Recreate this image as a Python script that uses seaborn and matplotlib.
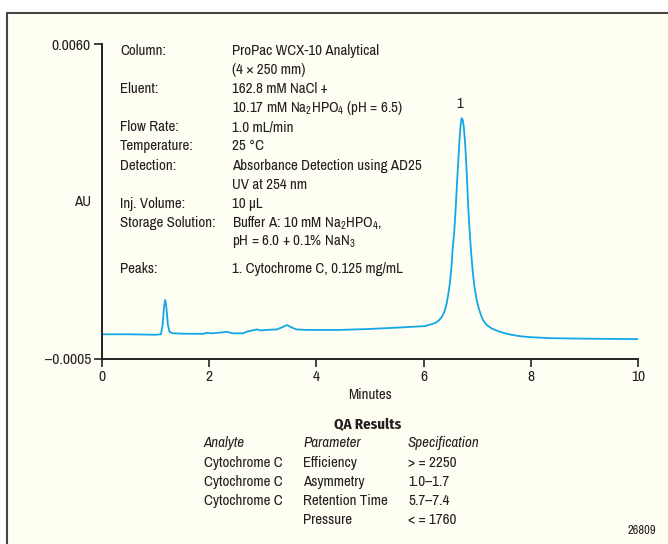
import matplotlib
matplotlib.use("Agg")
import matplotlib.pyplot as plt
import seaborn as sns
import pandas as pd
from matplotlib.patches import Rectangle
from matplotlib.lines import Line2D

# ---- data ----
time_min = [0.0, 0.5, 1.0, 1.10, 1.13, 1.16, 1.18, 1.20, 1.23, 1.26, 1.32, 1.60,
            1.89, 1.95, 2.07, 2.33, 2.44, 2.63, 2.72, 2.89, 2.95, 3.07, 3.26, 3.35,
            3.45, 3.54, 3.63, 3.82, 4.44, 5.0, 5.56, 6.03, 6.12, 6.21, 6.28, 6.34,
            6.39, 6.43, 6.46, 6.49, 6.52, 6.54, 6.57, 6.59, 6.61, 6.63, 6.65, 6.67,
            6.69, 6.71, 6.73, 6.75, 6.77, 6.79, 6.81, 6.83, 6.85, 6.87, 6.89, 6.92,
            6.95, 6.99, 7.03, 7.07, 7.11, 7.18, 7.27, 7.40, 7.52, 7.64, 7.80, 8.0,
            8.36, 9.0, 10.0]
au = [0.00001, 0.00001, 0.00000, 0.00001, 0.00020, 0.00060, 0.00072, 0.00058,
      0.00020, 0.00006, 0.00003, 0.00002, 0.00002, 0.00004, 0.00003, 0.00006,
      0.00003, 0.00003, 0.00007, 0.00011, 0.00009, 0.00010, 0.00011, 0.00015,
      0.00020, 0.00015, 0.00011, 0.00010, 0.00010, 0.00012, 0.00015, 0.00018,
      0.00021, 0.00024, 0.00029, 0.00037, 0.00048, 0.00065, 0.00083, 0.00106,
      0.00140, 0.00175, 0.00210, 0.00244, 0.00285, 0.00326, 0.00365, 0.00402,
      0.00432, 0.00447, 0.00443, 0.00429, 0.00402, 0.00367, 0.00320, 0.00270,
      0.00230, 0.00196, 0.00165, 0.00127, 0.00098, 0.00072, 0.00054, 0.00041,
      0.00030, 0.00020, 0.00013, 0.00007, 0.00003, 0.00000, -0.00003, -0.00005,
      -0.00007, -0.00008, -0.00009]

x_ticks = [0, 2, 4, 6, 8, 10]
y_ticks = [-0.0005, 0.0060]
y_tick_labels = ["\u20130.0005", "0.0060"]

cond_labels = ["Column:", "", "Eluent:", "", "Flow Rate:", "Temperature:", "Detection:",
               "", "Inj. Volume:", "Storage Solution:", "", "Peaks:"]
cond_values = ["ProPac WCX-10 Analytical", "(4 \u00d7 250 mm)", "162.8 mM NaCl +",
               "10.17 mM Na$_2$HPO$_4$ (pH = 6.5)", "1.0 mL/min", "25 \u00b0C",
               "Absorbance Detection using AD25", "UV at 254 nm", "10 \u00b5L",
               "Buffer A: 10 mM Na$_2$HPO$_4$,", "pH = 6.0 + 0.1% NaN$_3$",
               "1. Cytochrome C, 0.125 mg/mL"]

qa_header = ["Analyte", "Parameter", "Specification"]
qa_analyte = ["Cytochrome C", "Cytochrome C", "Cytochrome C", ""]
qa_parameter = ["Efficiency", "Asymmetry", "Retention Time", "Pressure"]
qa_spec = ["> = 2250", "1.0\u20131.7", "5.7\u20137.4", "< = 1760"]

peak_label = "1"
peak_time = 6.71
peak_au = 0.00447

# ---- style ----
sns.set_style("ticks")
FONT = ["Archivo Narrow", "DejaVu Sans Condensed", "DejaVu Sans"]
plt.rcParams["font.family"] = FONT
plt.rcParams["mathtext.default"] = "regular"

TXT = "#231f20"
FS = 10.8

W, H = 668, 544
fig = plt.figure(figsize=(W / 100, H / 100), dpi=100, facecolor="white")

def fx(px):
    return px / W

def fy(py):
    return 1 - py / H

bg = "#fefef3"
frame_col = "#454545"
fig.add_artist(Rectangle((fx(7), 0), 1 - fx(7), fy(13), transform=fig.transFigure,
                         facecolor=bg, edgecolor="none", zorder=0))
fig.add_artist(Line2D([fx(7), fx(7)], [0, fy(13)], transform=fig.transFigure,
                      color=frame_col, lw=1.5, zorder=1))
fig.add_artist(Line2D([fx(7), 1], [fy(13), fy(13)], transform=fig.transFigure,
                      color=frame_col, lw=1.5, zorder=1))

ax = fig.add_axes([fx(102), fy(359), fx(638) - fx(102), fy(44) - fy(359)])
ax.set_facecolor("none")

df = pd.DataFrame({"Minutes": time_min, "AU": au})
sns.lineplot(data=df, x="Minutes", y="AU", ax=ax, color="#14a6e6", lw=1.3)

ax.set_xlim(0, 10)
ax.set_ylim(-0.0005, 0.0060)
ax.set_xticks(x_ticks)
ax.set_xticklabels([str(v) for v in x_ticks])
ax.set_yticks(y_ticks)
ax.set_yticklabels(y_tick_labels)
for s in ["top", "right"]:
    ax.spines[s].set_visible(False)
for s in ["left", "bottom"]:
    ax.spines[s].set_color("#222222")
    ax.spines[s].set_linewidth(1.4)
ax.tick_params(axis="both", length=6, width=1.2, color="#222222", labelsize=11.2,
               labelcolor=TXT, pad=2)
ax.set_xlabel("Minutes", fontsize=FS, color=TXT, labelpad=3)
ax.set_ylabel("")
fig.text(fx(83), fy(202), "AU", fontsize=FS, color=TXT, ha="center", va="center")

ax.text(peak_time - 0.04, peak_au + 0.00014, peak_label, fontsize=FS, color=TXT,
        ha="center", va="bottom")

# conditions block
line_y = [51, 70, 89, 108, 127, 146, 166, 185, 204, 223, 242, 269]
for yy, lab, val in zip(line_y, cond_labels, cond_values):
    if lab:
        fig.text(fx(120), fy(yy), lab, fontsize=FS, color=TXT, ha="left", va="center")
    fig.text(fx(232), fy(yy), val, fontsize=FS, color=TXT, ha="left", va="center")

# QA results
fig.text(fx(368), fy(425), "QA Results", fontsize=FS, fontweight="bold",
         family=["Fira Sans Condensed", "DejaVu Sans"],
         color=TXT, ha="center", va="center")
col_x = [204, 303, 408]
for cx, h in zip(col_x, qa_header):
    fig.text(fx(cx), fy(443), h, fontsize=FS, style="italic", color=TXT,
             ha="left", va="center")
row_y = [463, 482, 501, 520]
for ry, a, p, s in zip(row_y, qa_analyte, qa_parameter, qa_spec):
    for cx, t in zip(col_x, [a, p, s]):
        if t:
            fig.text(fx(cx), fy(ry), t, fontsize=FS, color=TXT, ha="left", va="center")

fig.text(fx(656), fy(531), "26809", fontsize=9, color=TXT, ha="right", va="center")

fig.savefig("out.png", dpi=100, facecolor="white")
